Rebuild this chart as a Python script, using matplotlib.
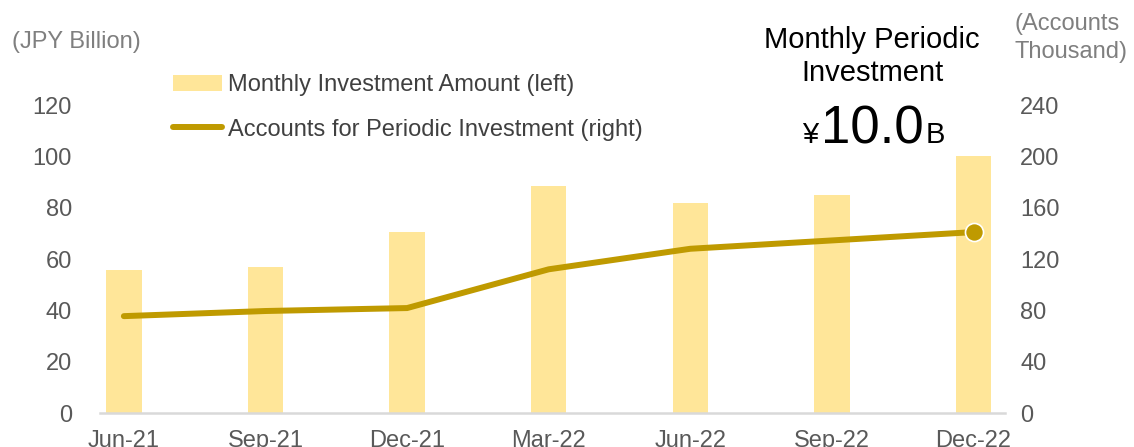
import matplotlib.pyplot as plt
from matplotlib.patches import Patch
from matplotlib.lines import Line2D

plt.rcParams['font.family'] = ['Liberation Sans', 'DejaVu Sans']

# data
quarters = ['Jun-21', 'Sep-21', 'Dec-21', 'Mar-22', 'Jun-22', 'Sep-22', 'Dec-22']
investment_amount = [55.8, 57.0, 70.6, 88.4, 81.8, 84.9, 100.0]      # JPY billion
periodic_accounts = [75.5, 79.5, 81.8, 112.0, 128.0, 134.5, 141.0]   # thousand accounts
left_ticks = [0, 20, 40, 60, 80, 100, 120]
right_ticks = [0, 40, 80, 120, 160, 200, 240]

bar_color = '#FFE699'
line_color = '#BF9A00'
tick_color = '#595959'
unit_color = '#7F7F7F'
fs = 17

fig = plt.figure(figsize=(11.34, 4.47), dpi=100)
ax = fig.add_axes([0.088, 0.076, 0.798, 0.689])
ax2 = ax.twinx()

x = list(range(len(quarters)))
ax.bar(x, investment_amount, width=0.25, color=bar_color, zorder=1)
ax2.plot(x, periodic_accounts, color=line_color, linewidth=4.3, solid_capstyle='round', zorder=3)
ax2.plot(x[-1], periodic_accounts[-1], 'o', markersize=13, color=line_color,
         markeredgecolor='white', markeredgewidth=1.2, zorder=4)

ax.set_xlim(-0.17, 6.22)
ax.set_ylim(0, 120)
ax2.set_ylim(0, 240)
ax.set_yticks(left_ticks)
ax2.set_yticks(right_ticks)
ax.set_xticks(x)
ax.set_xticklabels(quarters)

for a in (ax, ax2):
    for s in a.spines.values():
        s.set_visible(False)
    a.tick_params(length=0, labelsize=fs, colors=tick_color)
ax.spines['bottom'].set_visible(True)
ax.spines['bottom'].set_color('#D9D9D9')
ax.spines['bottom'].set_linewidth(1.8)
ax.tick_params(axis='y', pad=20)
ax2.tick_params(axis='y', pad=11)
ax.tick_params(axis='x', pad=12)
ax.set_zorder(ax2.get_zorder() - 1)
ax2.patch.set_visible(False)

# unit labels
fig.text(0.011, 0.907, '(JPY Billion)', fontsize=fs, color=unit_color, va='center', ha='left')
fig.text(0.895, 0.915, '(Accounts\nThousand)', fontsize=fs, color=unit_color, va='center',
         ha='left', linespacing=1.3)

# legend
handles = [Patch(facecolor=bar_color, edgecolor='none', label='Monthly Investment Amount (left)'),
           Line2D([], [], color=line_color, linewidth=4.3, solid_capstyle='round',
                  label='Accounts for Periodic Investment (right)')]
fig.legend(handles=handles, loc='upper left', bbox_to_anchor=(0.144, 0.855), frameon=False,
           fontsize=fs, labelcolor='#404040', handlelength=2.1, handleheight=0.7,
           handletextpad=0.25, labelspacing=0.95, borderaxespad=0)

# call-out
fig.text(0.769, 0.873, 'Monthly Periodic\nInvestment', fontsize=21, color='black',
         ha='center', va='center', linespacing=1.22)
big = fig.text(0.769, 0.68, '10.0', fontsize=38, ha='center', va='baseline', color='black')
fig.canvas.draw()
bb = big.get_window_extent().transformed(fig.transFigure.inverted())
fig.text(bb.x0 - 0.002, 0.68, '¥', fontsize=21, ha='right', va='baseline', color='black')
fig.text(bb.x1 + 0.002, 0.68, 'B', fontsize=21, ha='left', va='baseline', color='black')

fig.savefig('out.png', dpi=100)
